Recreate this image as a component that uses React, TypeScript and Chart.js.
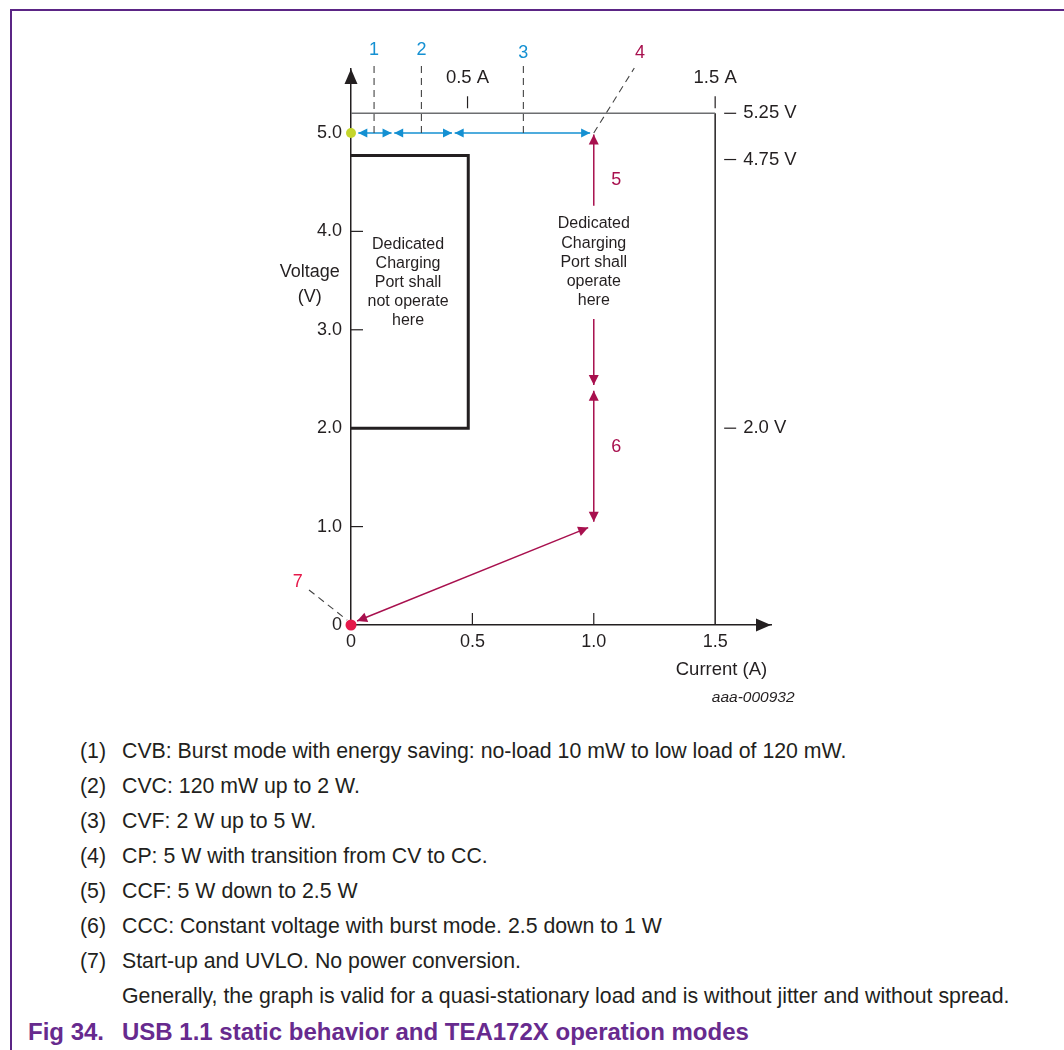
import React, { useEffect, useRef } from "react";
import { Chart, registerables } from "chart.js";

Chart.register(...registerables);

const FONT = "'Liberation Sans', Arial, Helvetica, sans-serif";
const INK = "#231f20";
const BLUE = "#1490d2";
const CRIMSON = "#a8104e";
const RED = "#e5194a";
const GREEN = "#c5d62c";
const PURPLE = "#5b2585";
const CAPTION_PURPLE = "#672a8e";

// axes
const X_TICKS = [0, 0.5, 1.0, 1.5];
const X_TICK_LABELS = ["0", "0.5", "1.0", "1.5"];
const Y_TICKS = [0, 1, 2, 3, 4, 5];
const Y_TICK_LABELS = ["0", "1.0", "2.0", "3.0", "4.0", "5.0"];
const X_MAX = 1.73;
const Y_MAX = 5.65;

// limits (A / V) as drawn in the schematic
const I_LIMIT = 1.5;
const V_HIGH = 5.2;
const V_NOM = 5.0;
const RIGHT_LABELS = ["5.25 V", "4.75 V", "2.0 V"];
const RIGHT_LABEL_V = [5.2, 4.73, 2.0];
const TOP_LABELS = ["0.5 A", "1.5 A"];
const TOP_LABEL_I = [0.48, 1.5];

// "shall not operate" box
const NO_OP_I = [0, 0.483, 0.483, 0];
const NO_OP_V = [4.77, 4.77, 2.0, 2.0];

// blue CV arrows at 5.0 V (from, to)
const CV_FROM = [0.03, 0.178, 0.427];
const CV_TO = [0.167, 0.416, 0.985];

// mode marker dashed lines 1..3
const MARK_I = [0.095, 0.29, 0.71];
const MARK_TOP_V = 5.69;
const MARK_LABELS = ["1", "2", "3"];
const MARK_LABEL_V = [5.84, 5.84, 5.81];

// crimson arrows: [i1, v1, i2, v2, heads]
const CC_ARROWS: [number, number, number, number, string][] = [
  [1.0, 4.26, 1.0, 4.985, "end"],
  [1.0, 3.11, 1.0, 2.44, "end"],
  [1.0, 2.38, 1.0, 1.05, "both"],
  [0.977, 0.99, 0.025, 0.04, "both"],
];

// leader lines for 4 and 7
const LEADER4 = [1.0, 5.0, 1.167, 5.66];
const LEADER7 = [-0.173, 0.356, -0.016, 0.05];
const NUM_LABELS = ["4", "5", "6", "7"];
const NUM_LABEL_I = [1.19, 1.093, 1.093, -0.219];
const NUM_LABEL_V = [5.81, 4.52, 1.81, 0.44];
const NUM_LABEL_COLORS = [CRIMSON, CRIMSON, CRIMSON, RED];

const TEXT_NO_OP = ["Dedicated", "Charging", "Port shall", "not operate", "here"];
const TEXT_OP = ["Dedicated", "Charging", "Port shall", "operate", "here"];

const NOTE_NUMS = ["(1)", "(2)", "(3)", "(4)", "(5)", "(6)", "(7)", ""];
const NOTE_TEXTS = [
  "CVB: Burst mode with energy saving: no-load 10 mW to low load of 120 mW.",
  "CVC: 120 mW up to 2 W.",
  "CVF: 2 W up to 5 W.",
  "CP: 5 W with transition from CV to CC.",
  "CCF: 5 W down to 2.5 W",
  "CCC: Constant voltage with burst mode. 2.5 down to 1 W",
  "Start-up and UVLO. No power conversion.",
  "Generally, the graph is valid for a quasi-stationary load and is without jitter and without spread.",
];

function seg(x1: number, y1: number, x2: number, y2: number, color: string, width: number, extra: any = {}) {
  return {
    data: [
      { x: x1, y: y1 },
      { x: x2, y: y2 },
    ],
    showLine: true,
    borderColor: color,
    backgroundColor: color,
    borderWidth: width,
    pointRadius: 0,
    clip: false,
    ...extra,
  };
}

function head(ctx: CanvasRenderingContext2D, tx: number, ty: number, fx: number, fy: number, len: number, hw: number, color: string) {
  const a = Math.atan2(ty - fy, tx - fx);
  const bx = tx - Math.cos(a) * len;
  const by = ty - Math.sin(a) * len;
  const nx = -Math.sin(a) * hw;
  const ny = Math.cos(a) * hw;
  ctx.beginPath();
  ctx.moveTo(tx, ty);
  ctx.lineTo(bx + nx, by + ny);
  ctx.lineTo(bx - nx, by - ny);
  ctx.closePath();
  ctx.fillStyle = color;
  ctx.fill();
}

const annotations = {
  id: "annotations",
  afterDatasetsDraw(chart: any) {
    const { ctx, chartArea } = chart;
    const xs = chart.scales.x;
    const ys = chart.scales.y;
    const X = (v: number) => xs.getPixelForValue(v);
    const Y = (v: number) => ys.getPixelForValue(v);
    ctx.save();

    // arrowheads on datasets
    chart.data.datasets.forEach((ds: any, i: number) => {
      if (!ds.heads) return;
      const meta = chart.getDatasetMeta(i);
      const p0 = meta.data[0];
      const p1 = meta.data[1];
      if (ds.heads === "end" || ds.heads === "both") head(ctx, p1.x, p1.y, p0.x, p0.y, ds.headLen, ds.headW, ds.borderColor);
      if (ds.heads === "start" || ds.heads === "both") head(ctx, p0.x, p0.y, p1.x, p1.y, ds.headLen, ds.headW, ds.borderColor);
    });

    // axis arrows
    const x0 = X(0);
    const y0 = Y(0);
    head(ctx, x0, chartArea.top, x0, chartArea.top + 20, 15, 6.5, INK);
    head(ctx, chartArea.right, y0, chartArea.right - 20, y0, 15, 6.5, INK);

    // inner tick marks
    ctx.strokeStyle = INK;
    ctx.lineWidth = 1.2;
    Y_TICKS.forEach((v) => {
      if (v === 0 || v === 5 || v === 2) return;
      ctx.beginPath();
      ctx.moveTo(x0, Y(v));
      ctx.lineTo(x0 + 12, Y(v));
      ctx.stroke();
    });
    X_TICKS.forEach((v) => {
      if (v === 0 || v === 1.5) return;
      ctx.beginPath();
      ctx.moveTo(X(v), y0);
      ctx.lineTo(X(v), y0 - 12);
      ctx.stroke();
    });

    // top current markers
    TOP_LABEL_I.forEach((v) => {
      ctx.beginPath();
      ctx.moveTo(X(v), Y(V_HIGH) - 5);
      ctx.lineTo(X(v), Y(V_HIGH) - 17);
      ctx.stroke();
    });
    ctx.font = `18.5px ${FONT}`;
    ctx.fillStyle = INK;
    ctx.textAlign = "center";
    ctx.textBaseline = "middle";
    TOP_LABELS.forEach((t, i) => ctx.fillText(t, X(TOP_LABEL_I[i]), Y(V_HIGH) - 35));

    // right voltage markers
    const xr = X(I_LIMIT);
    ctx.textAlign = "left";
    RIGHT_LABELS.forEach((t, i) => {
      const y = Y(RIGHT_LABEL_V[i]);
      ctx.beginPath();
      ctx.moveTo(xr + 9, y);
      ctx.lineTo(xr + 21, y);
      ctx.stroke();
      ctx.fillText(t, xr + 28, y);
    });

    // number labels
    ctx.textAlign = "center";
    ctx.font = `18px ${FONT}`;
    MARK_LABELS.forEach((t, i) => {
      ctx.fillStyle = BLUE;
      ctx.fillText(t, X(MARK_I[i]), Y(MARK_LABEL_V[i]));
    });
    NUM_LABELS.forEach((t, i) => {
      ctx.fillStyle = NUM_LABEL_COLORS[i];
      ctx.fillText(t, X(NUM_LABEL_I[i]), Y(NUM_LABEL_V[i]));
    });

    // text blocks
    ctx.fillStyle = INK;
    ctx.font = `16px ${FONT}`;
    TEXT_NO_OP.forEach((t, i) => ctx.fillText(t, X(0.235), Y(3.87) + i * 19.2));
    TEXT_OP.forEach((t, i) => ctx.fillText(t, X(1.0), Y(4.075) + i * 19.2));

    // axis titles
    ctx.font = `18px ${FONT}`;
    ctx.fillText("Voltage", X(-0.17), Y(3.59));
    ctx.fillText("(V)", X(-0.17), Y(3.33));
    ctx.font = `18.5px ${FONT}`;
    ctx.fillText("Current (A)", X(1.526), y0 + 45);
    ctx.font = `italic 15.5px ${FONT}`;
    ctx.textAlign = "right";
    ctx.fillText("aaa-000932", X(1.827), y0 + 73);

    ctx.restore();
  },
};

export default function App() {
  const ref = useRef<HTMLCanvasElement>(null);

  useEffect(() => {
    if (!ref.current) return;
    const datasets: any[] = [];
    // 5.25 V line and 1.5 A limit
    datasets.push(seg(0, V_HIGH, I_LIMIT, V_HIGH, "#6d6e71", 1.5));
    datasets.push(seg(I_LIMIT, 0, I_LIMIT, V_HIGH, INK, 1.5));
    // no-operate box
    datasets.push({
      data: NO_OP_I.map((x, i) => ({ x, y: NO_OP_V[i] })),
      showLine: true,
      borderColor: INK,
      borderWidth: 3,
      pointRadius: 0,
      clip: false,
      borderJoinStyle: "miter",
    });
    // dashed markers
    MARK_I.forEach((x) => datasets.push(seg(x, V_NOM, x, MARK_TOP_V, "#444", 1.1, { borderDash: [7, 5] })));
    datasets.push(seg(LEADER4[0], LEADER4[1], LEADER4[2], LEADER4[3], "#444", 1.1, { borderDash: [7, 5] }));
    datasets.push(seg(LEADER7[0], LEADER7[1], LEADER7[2], LEADER7[3], "#444", 1.1, { borderDash: [7, 5] }));
    // blue CV arrows
    CV_FROM.forEach((f, i) =>
      datasets.push(seg(f, V_NOM, CV_TO[i], V_NOM, BLUE, 1.5, { heads: "both", headLen: 9, headW: 4.5 }))
    );
    // crimson arrows
    CC_ARROWS.forEach((a) =>
      datasets.push(seg(a[0], a[1], a[2], a[3], CRIMSON, 1.5, { heads: a[4], headLen: 10, headW: 5 }))
    );
    // dots
    datasets.push({ data: [{ x: 0, y: V_NOM }], pointRadius: 5, pointBackgroundColor: GREEN, pointBorderWidth: 0, clip: false });
    datasets.push({ data: [{ x: 0, y: 0 }], pointRadius: 5.5, pointBackgroundColor: RED, pointBorderWidth: 0, clip: false });

    const chart = new Chart(ref.current, {
      type: "scatter",
      data: { datasets },
      plugins: [annotations],
      options: {
        responsive: false,
        animation: false,
        devicePixelRatio: 1,
        layout: { padding: { left: 291, right: 1064 - 771, top: 69, bottom: 720 - 625 - 30 } },
        plugins: { legend: { display: false }, tooltip: { enabled: false } },
        events: [],
        scales: {
          x: {
            type: "linear",
            min: 0,
            max: X_MAX,
            afterFit: (s: any) => {
              s.height = 30;
            },
            afterBuildTicks: (s: any) => {
              s.ticks = X_TICKS.map((v) => ({ value: v }));
            },
            grid: { display: false, drawTicks: false },
            border: { display: true, color: INK, width: 1.5 },
            ticks: {
              padding: 6,
              color: INK,
              font: { family: FONT, size: 18 },
              maxRotation: 0,
              autoSkip: false,
              callback: (v: any) => X_TICK_LABELS[X_TICKS.indexOf(Number(v))] ?? "",
            },
          },
          y: {
            type: "linear",
            min: 0,
            max: Y_MAX,
            afterFit: (s: any) => {
              s.width = 60;
            },
            afterBuildTicks: (s: any) => {
              s.ticks = Y_TICKS.map((v) => ({ value: v }));
            },
            grid: { display: false, drawTicks: false },
            border: { display: true, color: INK, width: 1.5 },
            ticks: {
              padding: 9,
              color: INK,
              font: { family: FONT, size: 18 },
              autoSkip: false,
              callback: (v: any) => Y_TICK_LABELS[Y_TICKS.indexOf(Number(v))] ?? "",
            },
          },
        },
      },
    } as any);
    return () => chart.destroy();
  }, []);

  const noteStyle = { position: "absolute" as const, fontSize: 21.3, lineHeight: "26px", whiteSpace: "nowrap" as const };
  const capStyle = {
    position: "absolute" as const,
    top: 1032 - 15,
    fontSize: 24,
    lineHeight: "30px",
    fontWeight: "bold" as const,
    color: CAPTION_PURPLE,
    whiteSpace: "nowrap" as const,
  };

  return (
    <div
      style={{
        position: "absolute",
        left: 0,
        top: 0,
        width: 1064,
        height: 1050,
        overflow: "hidden",
        background: "#fff",
        fontFamily: FONT,
        color: INK,
      }}
    >
      <div style={{ position: "absolute", left: 10, top: 9, width: 1054, height: 2, background: PURPLE }} />
      <div style={{ position: "absolute", left: 10, top: 9, width: 2, height: 1041, background: PURPLE }} />
      <canvas ref={ref} width={1064} height={720} style={{ position: "absolute", left: 0, top: 0, width: 1064, height: 720 }} />
      {NOTE_TEXTS.map((t, i) => (
        <React.Fragment key={i}>
          <div style={{ ...noteStyle, left: 80, top: 751 + i * 35 - 13 }}>{NOTE_NUMS[i]}</div>
          <div style={{ ...noteStyle, left: 122, top: 751 + i * 35 - 13 }}>{t}</div>
        </React.Fragment>
      ))}
      <div style={{ ...capStyle, left: 28 }}>Fig 34.</div>
      <div style={{ ...capStyle, left: 122 }}>USB 1.1 static behavior and TEA172X operation modes</div>
    </div>
  );
}
